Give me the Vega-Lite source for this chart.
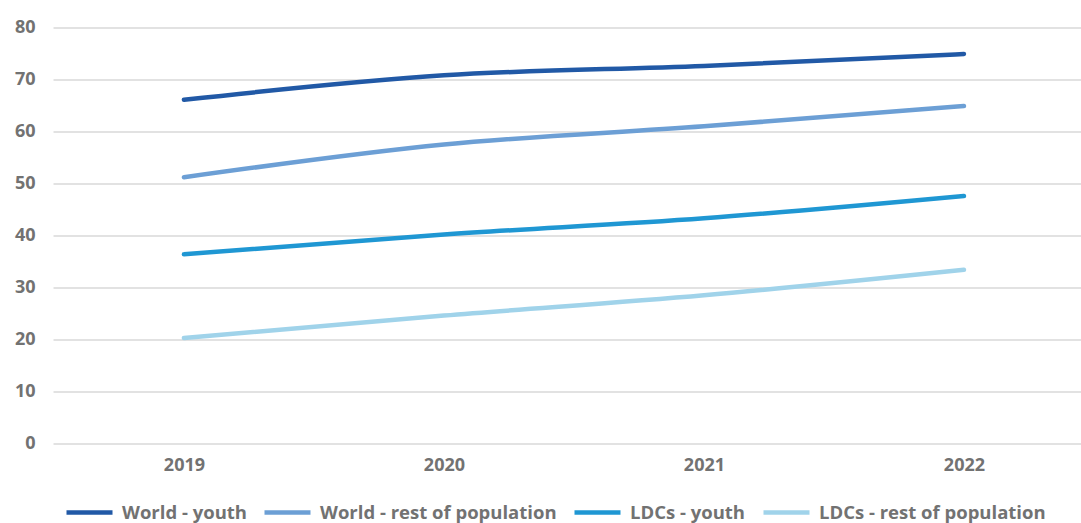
{
  "$schema": "https://vega.github.io/schema/vega-lite/v6.json",
  "autosize": "none",
  "width": 1028,
  "height": 416,
  "padding": {"left": 53, "top": 27.5, "right": 0, "bottom": 79.5},
  "background": "white",
  "data": {
    "values": [
      {"year": "2019", "series": "World - youth", "value": 66.1},
      {"year": "2020", "series": "World - youth", "value": 70.8},
      {"year": "2021", "series": "World - youth", "value": 72.6},
      {"year": "2022", "series": "World - youth", "value": 74.9},
      {"year": "2019", "series": "World - rest of population", "value": 51.2},
      {"year": "2020", "series": "World - rest of population", "value": 57.5},
      {"year": "2021", "series": "World - rest of population", "value": 61.0},
      {"year": "2022", "series": "World - rest of population", "value": 64.9},
      {"year": "2019", "series": "LDCs - youth", "value": 36.4},
      {"year": "2020", "series": "LDCs - youth", "value": 40.2},
      {"year": "2021", "series": "LDCs - youth", "value": 43.3},
      {"year": "2022", "series": "LDCs - youth", "value": 47.6},
      {"year": "2019", "series": "LDCs - rest of population", "value": 20.3},
      {"year": "2020", "series": "LDCs - rest of population", "value": 24.6},
      {"year": "2021", "series": "LDCs - rest of population", "value": 28.5},
      {"year": "2022", "series": "LDCs - rest of population", "value": 33.4}
    ]
  },
  "mark": {"type": "line", "strokeWidth": 4.5, "interpolate": "monotone", "strokeCap": "round"},
  "encoding": {
    "x": {
      "field": "year",
      "type": "ordinal",
      "scale": {"type": "point", "padding": 0.4769, "align": 0.528},
      "axis": {
        "title": null,
        "domain": false,
        "ticks": false,
        "grid": false,
        "labelAngle": 0,
        "labelFont": "Open Sans",
        "labelFontWeight": "bold",
        "labelFontSize": 18,
        "labelColor": "#727272",
        "labelPadding": 13
      }
    },
    "y": {
      "field": "value",
      "type": "quantitative",
      "scale": {"domain": [0, 80], "nice": false},
      "axis": {
        "title": null,
        "values": [0, 10, 20, 30, 40, 50, 60, 70, 80],
        "domain": false,
        "ticks": false,
        "grid": true,
        "gridColor": "#d9d9d9",
        "gridWidth": 1.5,
        "labelFont": "Open Sans",
        "labelFontWeight": "bold",
        "labelFontSize": 18,
        "labelColor": "#727272",
        "labelPadding": 18
      }
    },
    "color": {
      "field": "series",
      "type": "nominal",
      "sort": ["World - youth", "World - rest of population", "LDCs - youth", "LDCs - rest of population"],
      "scale": {
        "domain": ["World - youth", "World - rest of population", "LDCs - youth", "LDCs - rest of population"],
        "range": ["#2159a6", "#6c9fd5", "#1f97d3", "#a0d3ea"]
      },
      "legend": {
        "title": null,
        "orient": "none",
        "direction": "horizontal",
        "legendX": 11,
        "legendY": 459.5,
        "symbolType": "stroke",
        "symbolSize": 2116,
        "symbolStrokeWidth": 4.5,
        "labelFont": "Open Sans",
        "labelFontWeight": "bold",
        "labelFontSize": 18.5,
        "labelColor": "#727272",
        "labelLimit": 0,
        "labelOffset": 7,
        "columnPadding": 8
      }
    }
  },
  "config": {"view": {"stroke": null}}
}
